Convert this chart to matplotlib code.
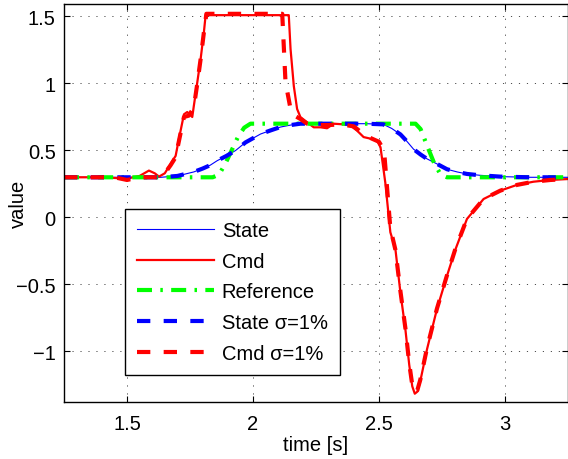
import matplotlib
matplotlib.use("Agg")
import matplotlib.pyplot as plt

plt.rcParams['font.family'] = ['Liberation Sans', 'DejaVu Sans']

# State (thin blue) and State sigma=1% (blue dashed)
state_t = [1.25, 1.55, 1.634, 1.70, 1.765, 1.80, 1.83, 1.858, 1.895, 1.931, 1.97,
           2.03, 2.07, 2.109, 2.15, 2.188, 2.25, 2.35, 2.45, 2.517, 2.55, 2.585,
           2.61, 2.637, 2.665, 2.691, 2.73, 2.77, 2.81, 2.849, 2.90, 2.981, 3.10, 3.25]
state_v = [0.30, 0.30, 0.30, 0.31, 0.34, 0.365, 0.39, 0.424, 0.46, 0.50, 0.56,
           0.623, 0.65, 0.675, 0.69, 0.70, 0.70, 0.70, 0.70, 0.695, 0.665, 0.62,
           0.57, 0.51, 0.47, 0.437, 0.40, 0.36, 0.34, 0.325, 0.315, 0.305, 0.30, 0.30]

# Cmd (red solid)
cmd_t = [1.25, 1.40, 1.50, 1.55, 1.587, 1.61, 1.627, 1.65, 1.673, 1.693, 1.706,
         1.726, 1.739, 1.759, 1.765, 1.779, 1.792, 1.805, 1.812, 2.142, 2.149,
         2.162, 2.175, 2.188, 2.215, 2.241, 2.268, 2.294, 2.32, 2.36, 2.387, 2.413,
         2.439, 2.472, 2.492, 2.506, 2.525, 2.545, 2.565, 2.585, 2.605, 2.62,
         2.632, 2.642, 2.652, 2.664, 2.691, 2.73, 2.77, 2.803, 2.849, 2.915,
         2.981, 3.047, 3.113, 3.18, 3.25]
cmd_v = [0.30, 0.30, 0.29, 0.31, 0.35, 0.33, 0.305, 0.33, 0.40, 0.46, 0.586,
         0.77, 0.787, 0.75, 0.83, 1.01, 1.18, 1.38, 1.51, 1.51, 1.257,
         0.98, 0.81, 0.75, 0.71, 0.673, 0.673, 0.666, 0.70, 0.695, 0.685, 0.648,
         0.60, 0.586, 0.573, 0.524, 0.26, -0.11, -0.235, -0.56, -0.84, -1.10,
         -1.26, -1.315, -1.30, -1.22, -0.98, -0.683, -0.434, -0.24, -0.011, 0.138,
         0.20, 0.243, 0.267, 0.28, 0.287]

# Cmd sigma=1% (red dashed)
cmd_s_t = [1.25, 1.45, 1.50, 1.55, 1.62, 1.65, 1.673, 1.693, 1.706, 1.726, 1.745,
           1.765, 1.779, 1.792, 1.805, 1.815, 2.116, 2.129, 2.149, 2.165, 2.188,
           2.215, 2.25, 2.30, 2.35, 2.40, 2.44, 2.47, 2.50, 2.52, 2.545, 2.565,
           2.585, 2.605, 2.62, 2.632, 2.642, 2.652, 2.664, 2.691, 2.73, 2.77,
           2.803, 2.849, 2.915, 2.981, 3.047, 3.113, 3.18, 3.25]
cmd_s_v = [0.30, 0.30, 0.28, 0.30, 0.30, 0.33, 0.39, 0.45, 0.57, 0.75, 0.76,
           0.82, 1.00, 1.18, 1.38, 1.52, 1.52, 1.01, 0.81, 0.76, 0.735,
           0.70, 0.69, 0.69, 0.695, 0.68, 0.62, 0.59, 0.565, 0.50, -0.08, -0.24,
           -0.55, -0.83, -1.09, -1.25, -1.305, -1.29, -1.21, -0.97, -0.68, -0.43,
           -0.235, -0.01, 0.138, 0.20, 0.243, 0.267, 0.28, 0.287]

# Reference (green dash-dot)
ref_t = [1.25, 1.84, 1.865, 1.89, 1.915, 1.94, 1.965, 1.99, 2.645, 2.665, 2.69,
         2.72, 2.745, 2.77, 3.25]
ref_v = [0.30, 0.30, 0.32, 0.40, 0.50, 0.60, 0.67, 0.70, 0.70, 0.66, 0.54,
         0.40, 0.32, 0.30, 0.30]

fs = 14.5

fig = plt.figure(figsize=(5.68, 4.6), dpi=100)
ax = fig.add_axes([64 / 568, 57 / 460, 504 / 568, 398.5 / 460])

ax.plot(state_t, state_v, color=(0, 0, 1), lw=0.8, label='State')
ax.plot(cmd_t, cmd_v, color=(1, 0, 0), lw=1.6, label='Cmd')
ax.plot(ref_t, ref_v, color=(0, 1, 0), lw=3, dashes=(3.6, 2, 0.6, 2), label='Reference')
ax.plot(state_t, state_v, color=(0, 0, 1), lw=3, dashes=(3.2, 3.2), label='State σ=1%')
ax.plot(cmd_s_t, cmd_s_v, color=(1, 0, 0), lw=3, dashes=(3.2, 3.2), label='Cmd σ=1%')

ax.set_xlim(1.25, 3.25)
ax.set_ylim(-1.377, 1.597)
ax.set_xticks([1.5, 2, 2.5, 3])
ax.set_xticklabels(['1.5', '2', '2.5', '3'])
ax.set_yticks([-1, -0.5, 0, 0.5, 1, 1.5])
ax.set_yticklabels(['\u22121', '\u22120.5', '0', '0.5', '1', '1.5'])
ax.tick_params(direction='in', length=4, width=0.8, top=True, right=True,
               labelsize=fs)
ax.tick_params(axis='x', pad=9)
ax.tick_params(axis='y', pad=6)
ax.grid(True, color='0.3', lw=0.7, linestyle=(0, (1.2, 7)))
for s in ax.spines.values():
    s.set_linewidth(1.0)

ax.set_xlabel('time [s]', fontsize=fs, labelpad=1)
ax.set_ylabel('value', fontsize=fs)
ax.yaxis.set_label_coords(-0.071, 0.5)

leg = ax.legend(loc='lower left', bbox_to_anchor=(0.121, 0.068), borderaxespad=0,
                fontsize=fs, handlelength=3.8, handletextpad=0.4,
                labelspacing=0.58, borderpad=0.6, fancybox=False, framealpha=1)
leg.get_frame().set_edgecolor('black')
leg.get_frame().set_linewidth(1.0)

fig.savefig('out.png', dpi=100)
